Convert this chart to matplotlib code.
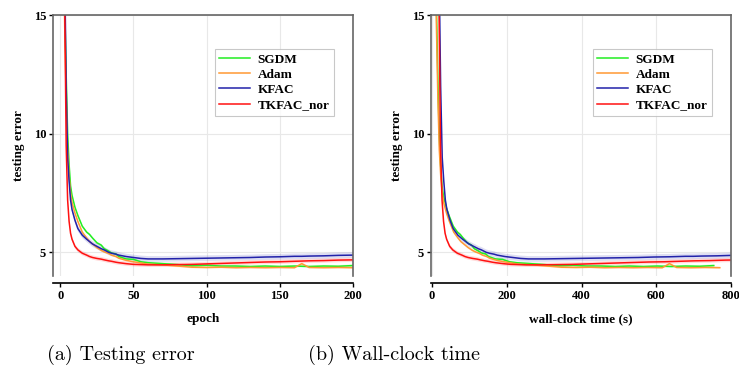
import numpy as np
import matplotlib
matplotlib.use('Agg')
import matplotlib.pyplot as plt

epochs = [0, 2, 3, 4, 5, 6, 7, 8, 10, 12, 15, 18, 20, 22, 25, 28, 30, 33, 35, 38, 40, 45, 50, 55, 60,
          70, 80, 90, 100, 110, 120, 130, 140, 150, 160, 165, 170, 180, 190, 200]

sgdm = [40, 20, 15.5, 12.5, 10.0, 8.7, 7.8, 7.4, 6.9, 6.55, 6.1, 5.85, 5.75, 5.6, 5.4, 5.3, 5.15, 5.05,
        4.97, 4.93, 4.82, 4.72, 4.70, 4.60, 4.56, 4.52, 4.48, 4.43, 4.45, 4.42, 4.42, 4.40, 4.42, 4.40,
        4.42, 4.41, 4.40, 4.42, 4.41, 4.44]
adam = [40, 19, 14.5, 11.5, 9.3, 8.2, 7.5, 7.1, 6.65, 6.3, 5.85, 5.6, 5.45, 5.35, 5.2, 5.08, 5.02, 4.95,
        4.88, 4.82, 4.75, 4.66, 4.60, 4.55, 4.50, 4.47, 4.42, 4.37, 4.36, 4.37, 4.35, 4.36, 4.35, 4.36,
        4.35, 4.52, 4.36, 4.35, 4.36, 4.35]
kfac = [40, 30, 17, 12.0, 9.0, 8.0, 7.2, 6.8, 6.35, 6.0, 5.72, 5.55, 5.45, 5.35, 5.25, 5.15, 5.1, 5.0,
        4.96, 4.92, 4.88, 4.82, 4.78, 4.74, 4.72, 4.72, 4.73, 4.74, 4.75, 4.76, 4.77, 4.78, 4.80, 4.81,
        4.83, 4.83, 4.84, 4.85, 4.87, 4.88]
tkfac = [40, 28, 15.5, 9.5, 7.2, 6.3, 5.8, 5.55, 5.25, 5.1, 4.96, 4.88, 4.82, 4.78, 4.74, 4.71, 4.68,
         4.64, 4.62, 4.58, 4.56, 4.52, 4.49, 4.48, 4.47, 4.47, 4.48, 4.49, 4.51, 4.53, 4.55, 4.57, 4.59,
         4.60, 4.62, 4.63, 4.64, 4.65, 4.67, 4.68]
stds = [0.05, 0.05, 0.12, 0.09]

# seconds per epoch and start-up time
sec_per_epoch = [3.77, 3.85, 4.2, 4.1]
start_time = [0, 0, 6, 6]

names = ['SGDM', 'Adam', 'KFAC', 'TKFAC_nor']
colors = ['#22ee22', '#ff9933', '#2222aa', '#ff1111']
series = [sgdm, adam, kfac, tkfac]

plt.rcParams['font.family'] = ['Liberation Serif', 'DejaVu Serif']
plt.rcParams['font.weight'] = 'bold'

fig = plt.figure(figsize=(7.39, 3.67), dpi=100)
ax1 = fig.add_axes([53 / 739, 1 - 276 / 367, 300 / 739, 261 / 367])
ax2 = fig.add_axes([431 / 739, 1 - 276 / 367, 300 / 739, 261 / 367])

x_ep = np.array(epochs)
for ax, wall in [(ax1, False), (ax2, True)]:
    for name, c, y, s, spe, t0 in zip(names, colors, series, stds, sec_per_epoch, start_time):
        y = np.array(y)
        x = x_ep * spe + t0 if wall else x_ep
        ax.fill_between(x, y - s, y + s, color=c, alpha=0.15, lw=0)
        ax.plot(x, y, color=c, lw=1.1, label=name)
    ax.set_ylim(4.0, 15)
    ax.set_yticks([5, 10, 15])
    ax.grid(True, color='#e8e8e8', lw=0.8)
    ax.set_axisbelow(True)
    for sp in ['top', 'right', 'left']:
        ax.spines[sp].set_color('#666666')
        ax.spines[sp].set_linewidth(1.2)
    ax.spines['bottom'].set_position(('outward', 5))
    ax.spines['bottom'].set_linewidth(1.2)
    ax.tick_params(axis='both', direction='out', length=3, width=1, labelsize=9, pad=2)
    for lab in ax.get_xticklabels() + ax.get_yticklabels():
        lab.set_fontweight('bold')
    ax.set_ylabel('testing error', fontsize=9.5, fontweight='bold', labelpad=6)
    leg = ax.legend(loc='upper right', bbox_to_anchor=(0.937, 0.87), borderaxespad=0, fontsize=9.5,
                    frameon=True, fancybox=False, edgecolor='#bbbbbb', handlelength=2.3,
                    borderpad=0.35, labelspacing=0.22, handletextpad=0.6)
    leg.get_frame().set_linewidth(0.8)
    for t in leg.get_texts():
        t.set_fontweight('bold')

ax1.set_xlim(-5, 200)
ax1.set_xticks([0, 50, 100, 150, 200])
ax1.set_xlabel('epoch', fontsize=9.5, fontweight='bold', labelpad=8)
ax2.set_xlim(-3, 800)
ax2.set_xticks([0, 200, 400, 600, 800])
ax2.set_xlabel('wall-clock time (s)', fontsize=9.5, fontweight='bold', labelpad=8)

fig.text(121 / 739, 1 - 355 / 367, '(a) Testing error', ha='center', va='center', fontsize=14.5,
         family='cmr10', fontweight='normal')
fig.text(394 / 739, 1 - 355 / 367, '(b) Wall-clock time', ha='center', va='center', fontsize=14.5,
         family='cmr10', fontweight='normal')

fig.savefig('out.png', dpi=100)
